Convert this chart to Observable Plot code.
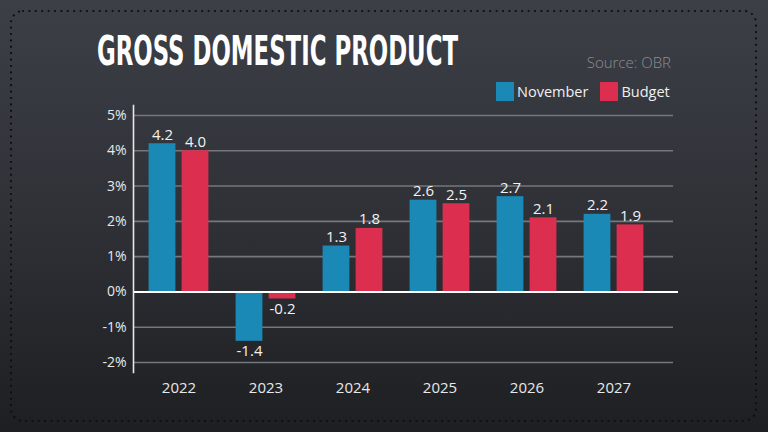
<!DOCTYPE html>
<html><head><meta charset="utf-8">
<script src="https://cdn.jsdelivr.net/npm/d3@7"></script>
<script src="https://cdn.jsdelivr.net/npm/@observablehq/plot@0.6"></script>
<style>
html,body{margin:0;padding:0;background:#2c2e33;}
#wrap{position:relative;width:768px;height:432px;overflow:hidden;background:linear-gradient(180deg,#3c3f46 0%,#2f3137 50%,#1e1f22 100%);font-family:"Open Sans","Noto Sans",sans-serif;}
#deco{position:absolute;left:0;top:0;}
#chart{position:absolute;left:0;top:0;}
#title{position:absolute;left:97px;top:31px;font-family:"Liberation Sans Narrow","DejaVu Sans Condensed",sans-serif;font-weight:bold;font-size:40px;line-height:40px;color:#ffffff;transform-origin:0 0;white-space:nowrap;}
#source{position:absolute;right:97px;top:52px;font-size:15px;font-weight:300;color:#8b8d92;white-space:nowrap;}
#legend{position:absolute;left:496px;top:82px;display:flex;align-items:center;font-size:14.5px;color:#f0f0f0;white-space:nowrap;}
#legend .sw{display:inline-block;width:18px;height:19px;margin-right:3px;}
#legend .item{display:flex;align-items:center;margin-right:12px;}
</style>
</head><body>
<div id="wrap">
  <svg id="deco" width="768" height="432"><rect x="11" y="11" width="745" height="410" rx="12" ry="12" fill="none" stroke="#0c0d0f" stroke-width="2.2" stroke-linecap="round" stroke-dasharray="0 6.4"/></svg>
  <div id="chart"></div>
  <div id="title">GROSS DOMESTIC PRODUCT</div>
  <div id="source">Source: OBR</div>
  <div id="legend"></div>
</div>
<script>
const years = ["2022","2023","2024","2025","2026","2027"];
const series = ["November","Budget"];
const november = [4.2,-1.4,1.3,2.6,2.7,2.2];
const budget = [4.0,-0.2,1.8,2.5,2.1,1.9];
const colors = ["#1b89b6","#dc2e4e"];
const yTicks = [-2,-1,0,1,2,3,4,5];

const data = [];
years.forEach((y,i)=>{
  data.push({year:y, series:"November", value:november[i]});
  data.push({year:y, series:"Budget", value:budget[i]});
});
const nov = data.filter(d=>d.series==="November");
const bud = data.filter(d=>d.series==="Budget");
const fmt = d => d.toFixed(1);

// layout of the two bars inside each year band (band ≈ 87px)
const inA = 13.6, inB = 46.6, off = 16.5;

const chart = Plot.plot({
  width:768, height:432,
  marginLeft:133, marginRight:90, marginTop:105, marginBottom:60,
  style:{background:"transparent", color:"#e8e8e8", fontFamily:"'Open Sans','Noto Sans',sans-serif"},
  x:{domain:years, padding:0, insetLeft:1.4, insetRight:20.4, label:null},
  y:{domain:[-2,5], insetTop:10, insetBottom:10, label:null},
  color:{domain:series, range:colors},
  marks:[
    Plot.ruleY(yTicks.filter(d=>d!==0), {stroke:"#75777c", strokeWidth:1.6, strokeOpacity:1, insetRight:5}),
    Plot.barY(nov, {x:"year", y:"value", fill:"series", insetLeft:inA, insetRight:inB}),
    Plot.barY(bud, {x:"year", y:"value", fill:"series", insetLeft:inB, insetRight:inA}),
    Plot.ruleY([0], {stroke:"#ffffff", strokeWidth:2}),
    Plot.frame({anchor:"left", stroke:"#e8e8e8", strokeWidth:1.6}),
    Plot.text(nov.filter(d=>d.value>=0), {x:"year", y:"value", text:d=>fmt(d.value), dx:-off, dy:-4, lineAnchor:"bottom", fill:"#f2f2f2", fontSize:15}),
    Plot.text(bud.filter(d=>d.value>=0), {x:"year", y:"value", text:d=>fmt(d.value), dx:off, dy:-4, lineAnchor:"bottom", fill:"#f2f2f2", fontSize:15}),
    Plot.text(nov.filter(d=>d.value<0), {x:"year", y:"value", text:d=>fmt(d.value), dx:-off, dy:4, lineAnchor:"top", fill:"#f2f2f2", fontSize:15}),
    Plot.text(bud.filter(d=>d.value<0), {x:"year", y:"value", text:d=>fmt(d.value), dx:off, dy:4, lineAnchor:"top", fill:"#f2f2f2", fontSize:15}),
    Plot.axisY(yTicks, {tickSize:0, tickPadding:7, tickFormat:d=>d+"%", fontSize:14, fill:"#e8e8e8"}),
    Plot.axisX(years, {tickSize:0, tickPadding:10, fontSize:15, fill:"#e8e8e8"})
  ]
});
document.getElementById("chart").appendChild(chart);

// legend
const lg = document.getElementById("legend");
series.forEach((s,i)=>{
  const it = document.createElement("div"); it.className="item";
  const sw = document.createElement("span"); sw.className="sw"; sw.style.background=colors[i];
  it.appendChild(sw); it.appendChild(document.createTextNode(s)); lg.appendChild(it);
});

// fit title to its width in the reference
const t = document.getElementById("title");
const w = t.getBoundingClientRect().width;
t.style.transform = `scaleX(${361/w})`;
</script>
</body></html>
